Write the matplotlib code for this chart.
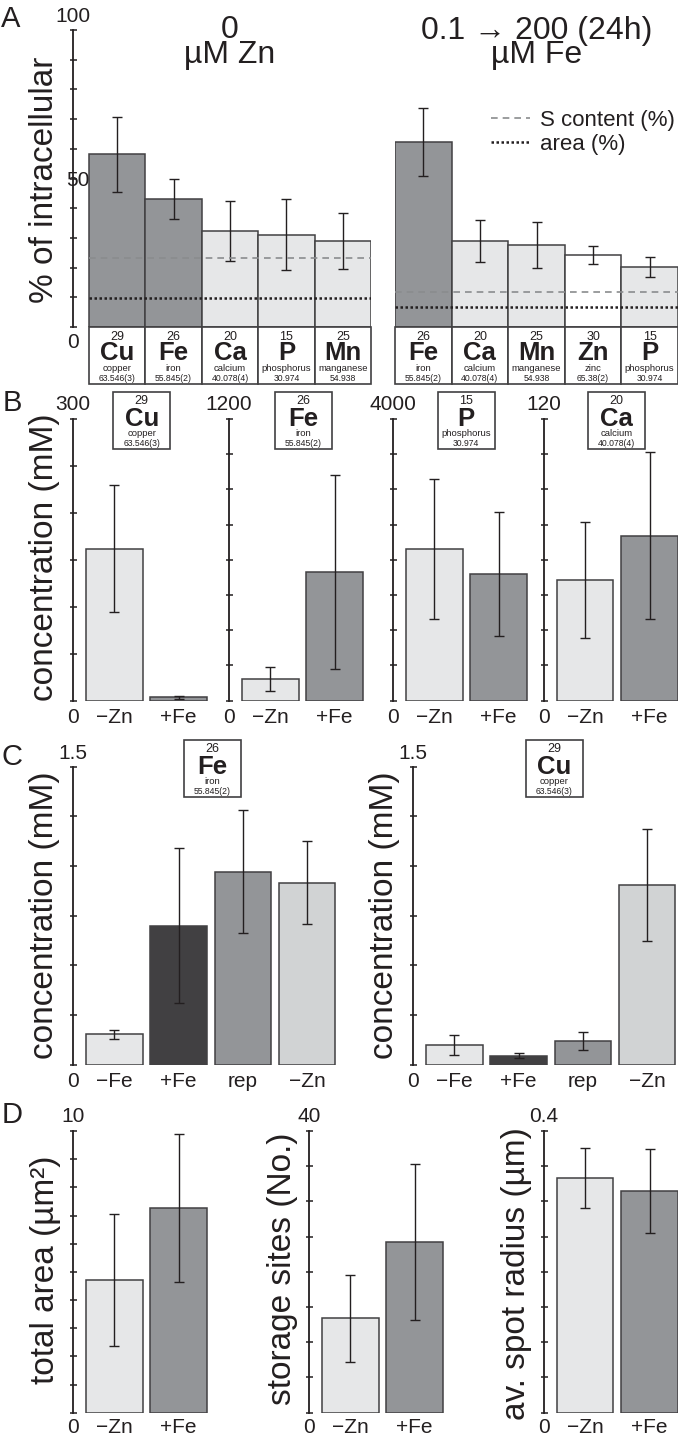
from __future__ import annotations

import matplotlib
import numpy as np

matplotlib.use("Agg")

from matplotlib import pyplot as plt
from matplotlib.patches import Rectangle

WIDTH_PX = 678
HEIGHT_PX = 1444
DPI = 100

LIGHT = "#e6e7e8"
MID = "#939598"
DARK = "#414042"
PALE = "#d1d3d4"
EDGE = "#414042"
INK = "#231f20"

TICK_SIZE = 15
LABEL_SIZE = 24

# periodic table cards: number, name, atomic mass
ELEMENT_INFO = {
    "Cu": (29, "copper", "63.546(3)"),
    "Fe": (26, "iron", "55.845(2)"),
    "Ca": (20, "calcium", "40.078(4)"),
    "P": (15, "phosphorus", "30.974"),
    "Mn": (25, "manganese", "54.938"),
    "Zn": (30, "zinc", "65.38(2)"),
}

# panel A: % of intracellular content in storage sites
A_LEFT_ELEMENTS = ["Cu", "Fe", "Ca", "P", "Mn"]
A_LEFT_VALUES = [58.2, 43.1, 32.3, 31.1, 29.0]
A_LEFT_ERRORS = [12.6, 6.9, 10.1, 12.0, 9.4]
A_LEFT_S_CONTENT = 23.2
A_LEFT_AREA = 9.8

A_RIGHT_ELEMENTS = ["Fe", "Ca", "Mn", "Zn", "P"]
A_RIGHT_VALUES = [62.3, 29.0, 27.6, 24.3, 20.2]
A_RIGHT_ERRORS = [11.3, 7.0, 7.7, 3.1, 3.4]
A_RIGHT_S_CONTENT = 11.8
A_RIGHT_AREA = 6.7

# panel B: concentration (mM), -Zn vs +Fe
B_ELEMENTS = ["Cu", "Fe", "P", "Ca"]
B_CONDITIONS = ["\u2212Zn", "+Fe"]
B_YMAX = [300, 1200, 4000, 120]
B_INTERVALS = [6, 8, 8, 8]
B_VALUES = [[162.0, 3.5], [92.0, 550.0], [2154.0, 1795.0], [51.3, 70.3]]
B_ERRORS = [[68.0, 1.5], [51.0, 413.0], [994.0, 880.0], [24.7, 35.5]]

# panel C: concentration (mM) of Fe and Cu
C_ELEMENTS = ["Fe", "Cu"]
C_CONDITIONS = ["\u2212Fe", "+Fe", "rep", "\u2212Zn"]
C_YMAX = 1.5
C_INTERVALS = 6
C_VALUES = [[0.153, 0.700, 0.971, 0.916], [0.098, 0.045, 0.121, 0.905]]
C_ERRORS = [[0.024, 0.39, 0.31, 0.21], [0.05, 0.013, 0.045, 0.28]]

# panel D: storage site morphology
D_LABELS = ["total area (\u00b5m\u00b2)", "storage sites (No.)", "av. spot radius (\u00b5m)"]
D_CONDITIONS = ["\u2212Zn", "+Fe"]
D_YMAX = [10, 40, 0.4]
D_YMAX_TEXT = ["10", "40", "0.4"]
D_INTERVALS = [10, 8, 8]
D_VALUES = [[4.72, 7.26], [13.4, 24.2], [0.333, 0.315]]
D_ERRORS = [[2.34, 2.63], [6.2, 11.1], [0.043, 0.06]]

A_LEFT_COLORS = [MID, MID, LIGHT, LIGHT, LIGHT]
A_RIGHT_COLORS = [MID, LIGHT, LIGHT, "white", LIGHT]
B_COLORS = [LIGHT, MID]
C_COLORS = [LIGHT, DARK, MID, PALE]
D_COLORS = [LIGHT, MID]

BAR_OFFSET = 13.0
BAR_WIDTH = 56.5
BAR_STEP = 64.3
BOX_HEIGHT = 57.0


def px_to_pt(value: float) -> float:
    return value * 72.0 / DPI


def add_px_axes(figure, left, top, right, bottom):
    return figure.add_axes(
        [left / WIDTH_PX, 1.0 - bottom / HEIGHT_PX, (right - left) / WIDTH_PX, (bottom - top) / HEIGHT_PX]
    )


def style_value_axis(axis, ymax, intervals, show_spine=True):
    for side in ("top", "right", "bottom"):
        axis.spines[side].set_visible(False)
    axis.patch.set_alpha(0.0)
    axis.set_ylim(0, ymax)
    if show_spine:
        axis.spines["left"].set_linewidth(1.3)
        axis.spines["left"].set_color(INK)
        axis.set_yticks(np.linspace(0, ymax, intervals + 1))
        axis.set_yticklabels([])
        axis.tick_params(axis="y", direction="inout", length=px_to_pt(7), width=1.1, color=INK)
    else:
        axis.spines["left"].set_visible(False)
        axis.set_yticks([])


def end_labels(axis, top_text, ymax, top_gap, bottom_gap):
    common = dict(xycoords=("axes fraction", "data"), textcoords="offset points", ha="center", va="center",
                  fontsize=TICK_SIZE, annotation_clip=False)
    axis.annotate(top_text, xy=(0, ymax), xytext=(0, px_to_pt(top_gap)), **common)
    axis.annotate("0", xy=(0, 0), xytext=(0, -px_to_pt(bottom_gap)), **common)


def draw_bars(axis, positions, values, errors, width, colors):
    axis.bar(positions, values, width=width, color=colors, edgecolor=EDGE, linewidth=1.1)
    axis.errorbar(positions, values, yerr=errors, fmt="none", ecolor=INK, elinewidth=1.0,
                  capsize=px_to_pt(5), capthick=1.0, clip_on=False)


def bar_axes(figure, axis_x, top, bottom, n_bars, ymax, intervals, top_text, labels, values, errors, colors,
             top_gap=15, bottom_gap=17):
    right = axis_x + BAR_OFFSET + (n_bars - 1) * BAR_STEP + BAR_WIDTH + 1.5
    axis = add_px_axes(figure, axis_x, top, right, bottom)
    axis.set_xlim(-(BAR_OFFSET + BAR_WIDTH / 2) / BAR_STEP, (n_bars - 1) + (BAR_WIDTH / 2 + 1.5) / BAR_STEP)
    style_value_axis(axis, ymax, intervals)
    positions = np.arange(n_bars)
    draw_bars(axis, positions, values, errors, BAR_WIDTH / BAR_STEP, colors)
    axis.set_xticks(positions, labels=labels, fontsize=TICK_SIZE)
    axis.tick_params(axis="x", length=0, pad=px_to_pt(bottom_gap))
    for label in axis.get_xticklabels():
        label.set_verticalalignment("center")
    end_labels(axis, top_text, ymax, top_gap, bottom_gap)
    return axis


def draw_element(axis, center_x, left_x, box_width, top_y, symbol):
    number, name, mass = ELEMENT_INFO[symbol]
    axis.add_patch(Rectangle((left_x, top_y), box_width, BOX_HEIGHT, facecolor="white", edgecolor=EDGE,
                             linewidth=1.2, clip_on=False))
    axis.text(center_x, top_y + 12.5, str(number), fontsize=9, ha="center", va="baseline", color=INK)
    axis.text(center_x, top_y + 33.5, symbol, fontsize=18.5, fontweight="bold", ha="center", va="baseline",
              color=INK)
    axis.text(center_x, top_y + 44.2, name, fontsize=6.8, ha="center", va="baseline", color=INK)
    axis.text(center_x, top_y + 54, mass, fontsize=6.2, ha="center", va="baseline", color=INK)


def plot_panel_a(figure, overlay):
    top, bottom = 30.0, 327.0
    groups = [
        (73.0, 371.0, 16.0, A_LEFT_ELEMENTS, A_LEFT_VALUES, A_LEFT_ERRORS, A_LEFT_COLORS, A_LEFT_S_CONTENT,
         A_LEFT_AREA, True),
        (395.0, 678.0, 0.0, A_RIGHT_ELEMENTS, A_RIGHT_VALUES, A_RIGHT_ERRORS, A_RIGHT_COLORS, A_RIGHT_S_CONTENT,
         A_RIGHT_AREA, False),
    ]
    for left, right, pad, elements, values, errors, colors, s_content, area, first in groups:
        n_bars = len(elements)
        bar_px = (right - left - pad) / n_bars
        xlim = (-0.5 - pad / bar_px, n_bars - 0.5)
        axis = add_px_axes(figure, left, top, right, bottom)
        axis.set_xlim(*xlim)
        style_value_axis(axis, 100, 10, show_spine=first)
        axis.set_xticks([])
        positions = np.arange(n_bars)
        draw_bars(axis, positions, values, errors, 1.0, colors)
        axis.hlines(s_content, -0.5, n_bars - 0.5, colors="#8a8c8e", linestyles=(0, (4, 3)), linewidth=1.2,
                    label="S content (%)")
        axis.hlines(area, -0.5, n_bars - 0.5, colors=INK, linestyles=(0, (1, 1)), linewidth=1.8,
                    label="area (%)")
        if first:
            end_labels(axis, "100", 100, 13, 16)
            axis.annotate("50", xy=(0, 50), xycoords=("axes fraction", "data"), xytext=(px_to_pt(5), -px_to_pt(1.5)),
                          textcoords="offset points", ha="center", va="center", fontsize=TICK_SIZE)
        else:
            axis.legend(loc="upper left", bbox_to_anchor=(491 / WIDTH_PX, 1 - 110 / HEIGHT_PX),
                        bbox_transform=figure.transFigure, frameon=False, fontsize=16, handlelength=1.75,
                        handletextpad=0.45, borderpad=0, borderaxespad=0, labelspacing=0.12)

        boxes = add_px_axes(figure, left, bottom, right, bottom + BOX_HEIGHT)
        boxes.set_xlim(*xlim)
        boxes.set_ylim(BOX_HEIGHT, 0)
        boxes.axis("off")
        for index, symbol in enumerate(elements):
            draw_element(boxes, index, index - 0.5, 1.0, 0, symbol)

    overlay.text(230, 62.5, "0\n\u00b5M Zn", fontsize=23, ha="center", va="baseline", multialignment="center",
                 linespacing=0.78)
    overlay.text(537, 63.5, "0.1 \u2192 200 (24h)\n\u00b5M Fe", fontsize=23, ha="center", va="baseline",
                 multialignment="center", linespacing=0.78)
    overlay.text(45, 180, "% of intracellular", fontsize=LABEL_SIZE, rotation=90, ha="center", va="center")


def plot_panel_b(figure, overlay):
    axis_x = [73.0, 229.0, 393.0, 544.0]
    box_centers = [141.7, 303.2, 466.2, 616.8]
    for index, symbol in enumerate(B_ELEMENTS):
        bar_axes(figure, axis_x[index], 419.0, 700.7, len(B_CONDITIONS), B_YMAX[index], B_INTERVALS[index],
                 str(B_YMAX[index]), B_CONDITIONS, B_VALUES[index], B_ERRORS[index], B_COLORS)
        draw_element(overlay, box_centers[index], box_centers[index] - 28.5, 57, 392.0, symbol)
    overlay.text(45, 557, "concentration (mM)", fontsize=LABEL_SIZE, rotation=90, ha="center", va="center")


def plot_panel_c(figure, overlay):
    axis_x = [73.0, 413.0]
    box_centers = [212.0, 554.0]
    for index, symbol in enumerate(C_ELEMENTS):
        bar_axes(figure, axis_x[index], 766.7, 1064.7, len(C_CONDITIONS), C_YMAX, C_INTERVALS, "1.5",
                 C_CONDITIONS, C_VALUES[index], C_ERRORS[index], C_COLORS, top_gap=13, bottom_gap=17)
        draw_element(overlay, box_centers[index], box_centers[index] - 28.5, 57, 740.0, symbol)
        overlay.text(axis_x[index] - 28, 915, "concentration (mM)", fontsize=LABEL_SIZE, rotation=90,
                     ha="center", va="center")


def plot_panel_d(figure, overlay):
    axis_x = [73.0, 309.0, 544.0]
    label_y = [1270, 1269, 1274]
    for index, label in enumerate(D_LABELS):
        bar_axes(figure, axis_x[index], 1131.0, 1412.7, len(D_CONDITIONS), D_YMAX[index], D_INTERVALS[index],
                 D_YMAX_TEXT[index], D_CONDITIONS, D_VALUES[index], D_ERRORS[index], D_COLORS,
                 top_gap=14, bottom_gap=15)
        overlay.text(axis_x[index] - 27, label_y[index], label, fontsize=LABEL_SIZE, rotation=90,
                     ha="center", va="center")


def main() -> None:
    plt.rcParams["font.family"] = ["Liberation Sans", "DejaVu Sans"]
    plt.rcParams["text.color"] = INK
    plt.rcParams["xtick.color"] = INK
    figure = plt.figure(figsize=(WIDTH_PX / DPI, HEIGHT_PX / DPI), dpi=DPI)
    overlay = figure.add_axes([0, 0, 1, 1], zorder=5)
    overlay.set_xlim(0, WIDTH_PX)
    overlay.set_ylim(HEIGHT_PX, 0)
    overlay.axis("off")

    plot_panel_a(figure, overlay)
    plot_panel_b(figure, overlay)
    plot_panel_c(figure, overlay)
    plot_panel_d(figure, overlay)

    for letter, x, y in (("A", 11, 19), ("B", 12, 403), ("C", 12, 757), ("D", 12, 1115)):
        overlay.text(x, y, letter, fontsize=21, ha="center", va="center")

    figure.savefig("out.png", dpi=DPI)
    plt.close(figure)


if __name__ == "__main__":
    main()
